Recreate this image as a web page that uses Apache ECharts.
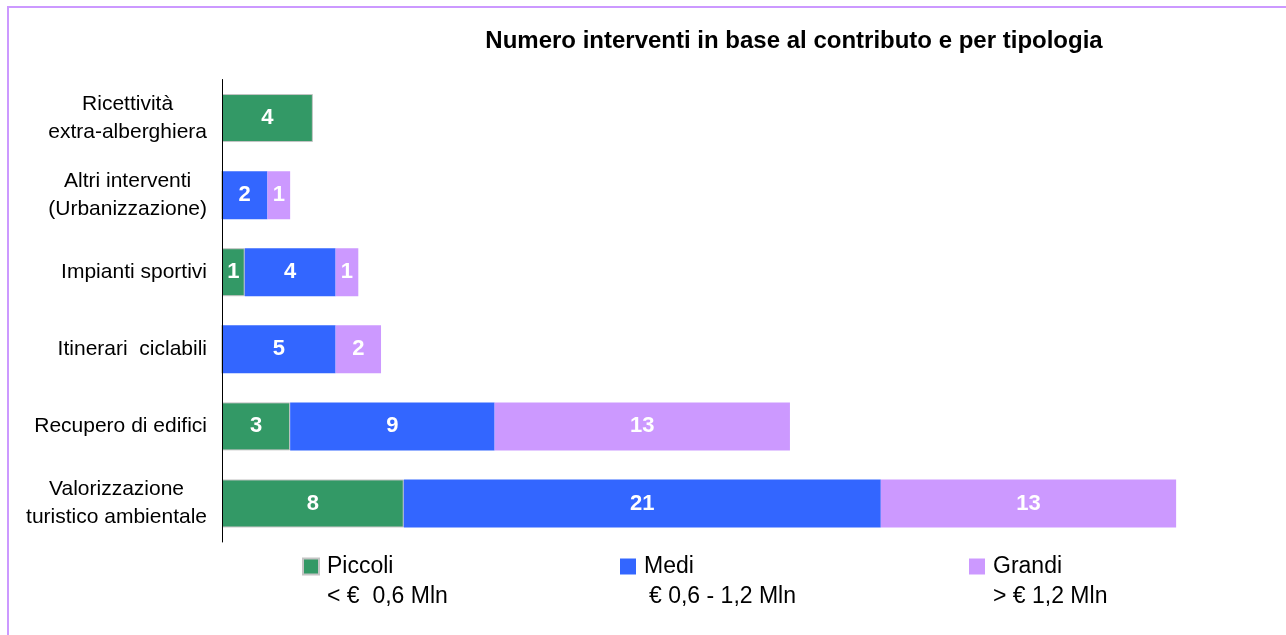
<!DOCTYPE html>
<html>
<head>
<meta charset="utf-8">
<script src="https://cdn.jsdelivr.net/npm/echarts@6/dist/echarts.min.js"></script>
<style>
  html, body { margin: 0; padding: 0; background: #fff; }
  #chart { width: 1286px; height: 635px; }
</style>
</head>
<body>
<div id="chart"></div>
<script>
// Categories, top to bottom
const categories = [
  'Ricettività\nextra-alberghiera',
  'Altri interventi\n(Urbanizzazione)',
  'Impianti sportivi',
  'Itinerari  ciclabili',
  'Recupero di edifici',
  'Valorizzazione\nturistico ambientale'
];

// Number of projects per contribution size
const piccoli = [4, 0, 1, 0, 3, 8];
const medi    = [0, 2, 4, 5, 9, 21];
const grandi  = [0, 1, 1, 2, 13, 13];

const seriesNames = ['Piccoli', 'Medi', 'Grandi'];
const seriesRanges = ['< €  0,6 Mln', '€ 0,6 - 1,2 Mln', '> € 1,2 Mln'];
const seriesColors = ['#339966', '#3366FF', '#CC99FF'];

const FONT = '"Liberation Sans", Arial, sans-serif';

const chart = echarts.init(document.getElementById('chart'), null, { renderer: 'canvas' });

const barLabel = {
  show: true,
  position: 'inside',
  color: '#fff',
  fontWeight: 'bold',
  fontSize: 22,
  fontFamily: FONT,
  formatter: p => (p.value ? String(p.value) : '')
};

function makeSeries(i, data) {
  const s = {
    name: seriesNames[i],
    type: 'bar',
    stack: 'total',
    data: data,
    barWidth: 48,
    itemStyle: { color: seriesColors[i] },
    label: barLabel,
    emphasis: { disabled: true }
  };
  if (i === 0) {
    s.itemStyle.borderColor = '#c4c4c4';
    s.itemStyle.borderWidth = 1;
  }
  return s;
}

function makeLegend(i, left, indent) {
  return {
    data: [seriesNames[i]],
    left: left,
    top: 525,
    padding: 0,
    itemWidth: 16,
    itemHeight: 16,
    icon: 'rect',
    selectedMode: false,
    formatter: name => '{e| }\n{a|' + name + '}\n{b|' + seriesRanges[i] + '}',
    textStyle: {
      color: '#000',
      fontFamily: FONT,
      fontSize: 23,
      rich: {
        e: { fontSize: 23, lineHeight: 30, fontFamily: FONT },
        a: { fontSize: 23, lineHeight: 30, color: '#000', fontFamily: FONT, padding: [0, 0, 0, 3] },
        b: { fontSize: 23, lineHeight: 30, color: '#000', fontFamily: FONT, padding: [0, 0, 0, 3 + indent] }
      }
    }
  };
}

const option = {
  backgroundColor: '#fff',
  animation: false,
  title: {
    text: 'Numero interventi in base al contributo e per tipologia',
    left: 789,
    top: 24,
    textAlign: 'center',
    textStyle: { color: '#000', fontFamily: FONT, fontWeight: 'bold', fontSize: 24 }
  },
  legend: [
    makeLegend(0, 302, 0),
    makeLegend(1, 620, 5),
    makeLegend(2, 969, 0)
  ],
  grid: { left: 222, top: 79.5, width: 1045, height: 462.5, containLabel: false },
  xAxis: {
    type: 'value',
    min: 0,
    max: 46,
    show: false
  },
  yAxis: {
    type: 'category',
    data: categories,
    inverse: true,
    z: 5,
    axisLine: { show: true, lineStyle: { color: '#000', width: 1 } },
    axisTick: { show: false },
    splitLine: { show: false },
    axisLabel: {
      margin: 15,
      color: '#000',
      fontFamily: FONT,
      fontSize: 21,
      lineHeight: 28,
      formatter: v => v.split('\n').map(l => '{c|' + l + '}').join('\n'),
      rich: {
        c: { align: 'center', fontSize: 21, lineHeight: 28, fontFamily: FONT, color: '#000' }
      }
    }
  },
  graphic: [{
    type: 'rect',
    shape: { x: 8, y: 7, width: 1300, height: 650 },
    style: { fill: 'none', stroke: '#CC99FF', lineWidth: 2 },
    silent: true,
    z: 100
  }],
  series: [
    makeSeries(0, piccoli),
    makeSeries(1, medi),
    makeSeries(2, grandi)
  ]
};

chart.setOption(option);
</script>
</body>
</html>
